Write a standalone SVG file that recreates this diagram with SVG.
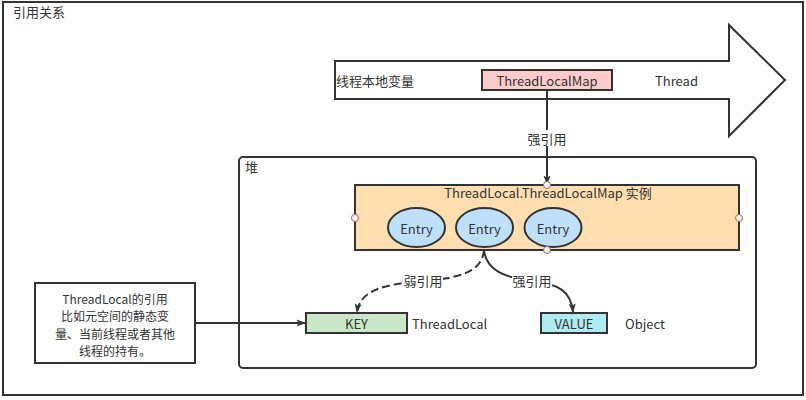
<svg xmlns="http://www.w3.org/2000/svg" width="806" height="400" viewBox="0 0 806 400">
<style>
text{font-family:"Noto Sans CJK SC","Liberation Sans",sans-serif;font-size:13px;fill:#333333}
.c{text-anchor:middle;dominant-baseline:central}
.l{dominant-baseline:central}
.n{font-size:12px}
.box{stroke:#333333;stroke-width:2}
.edge{fill:none;stroke:#333333;stroke-width:2}
.pt{fill:#ffffff;stroke:#b85450;stroke-width:1}
</style>
<defs>
<marker id="arr" viewBox="0 0 10 10" refX="9" refY="5" markerWidth="6" markerHeight="6" markerUnits="userSpaceOnUse" orient="auto" overflow="visible">
<path d="M-4,0 L9,5 L-4,10 L-1,5 Z" fill="#333333" stroke="#333333" stroke-width="1"/>
</marker>
</defs>
<g id="frame">
<rect x="3" y="2" width="800" height="393" fill="#ffffff" class="box"/>
<text x="13" y="11" class="l">引用关系</text>
</g>
<g id="thread">
<path d="M335,61 L729,61 L729,25 L785,80 L729,136 L729,99 L335,99 Z" fill="#ffffff" class="box"/>
<text x="336" y="80" class="l">线程本地变量</text>
<text x="655" y="80" class="l">Thread</text>
</g>
<g id="heap">
<rect x="239" y="157" width="517" height="211" rx="4" fill="#ffffff" class="box"/>
<text x="245" y="166" class="l">堆</text>
</g>
<g id="map">
<rect x="355" y="185" width="384" height="65" fill="#ffdfb0" class="box"/>
<text x="548" y="192" class="c">ThreadLocal.ThreadLocalMap 实例</text>
</g>
<g id="entry1"><ellipse cx="416.5" cy="227.5" rx="28.5" ry="19.5" fill="#bfe0fa" class="box"/><text x="416.5" y="228" class="c">Entry</text></g>
<g id="entry2"><ellipse cx="484.5" cy="227.5" rx="28.5" ry="19.5" fill="#bfe0fa" class="box"/><text x="484.5" y="228" class="c">Entry</text></g>
<g id="entry3"><ellipse cx="553" cy="227.5" rx="28.5" ry="19.5" fill="#bfe0fa" class="box"/><text x="553" y="228" class="c">Entry</text></g>
<g id="tlm">
<rect x="482" y="70" width="130" height="20" fill="#ffcccc" class="box"/>
<text x="547" y="80" class="c">ThreadLocalMap</text>
</g>
<g id="key">
<rect x="306" y="313" width="101" height="20" fill="#c9e6c9" class="box"/>
<text x="356.5" y="323" class="c">KEY</text>
<text x="412" y="323" class="l">ThreadLocal</text>
</g>
<g id="value">
<rect x="541" y="313" width="66" height="20" fill="#b0ebf2" class="box"/>
<text x="574" y="323" class="c">VALUE</text>
<text x="625" y="323" class="l">Object</text>
</g>
<g id="note">
<rect x="35" y="283" width="160" height="80" fill="#ffffff" class="box"/>
<text x="115" y="298" class="c n">ThreadLocal的引用</text>
<text x="115" y="315.5" class="c n">比如元空间的静态变</text>
<text x="115" y="333" class="c n">量、当前线程或者其他</text>
<text x="115" y="350.5" class="c n">线程的持有。</text>
</g>
<g id="connectors">
<path d="M547,90 L547,184" class="edge" marker-end="url(#arr)"/>
<rect x="526" y="130" width="42" height="16" fill="#ffffff"/>
<text x="547" y="138" class="c">强引用</text>
<path d="M195,323 L305,323" class="edge" marker-end="url(#arr)"/>
<path d="M484,250 C482,272 460,278 423,281 C385,284 360,290 357,312" class="edge" stroke-dasharray="8 4" marker-end="url(#arr)"/>
<path d="M484,250 C486,270 505,278 532,281 C560,284 571,292 573,312" class="edge" marker-end="url(#arr)"/>
<rect x="403" y="273" width="40" height="15" fill="#ffffff"/>
<text x="423" y="280" class="c">弱引用</text>
<rect x="512" y="273" width="40" height="15" fill="#ffffff"/>
<text x="532" y="280" class="c">强引用</text>
<circle cx="547" cy="185" r="3.5" class="pt"/>
<circle cx="355" cy="218" r="3.5" class="pt"/>
<circle cx="739" cy="218" r="3.5" class="pt"/>
<circle cx="547" cy="250" r="3.5" class="pt"/>
</g>
</svg>
